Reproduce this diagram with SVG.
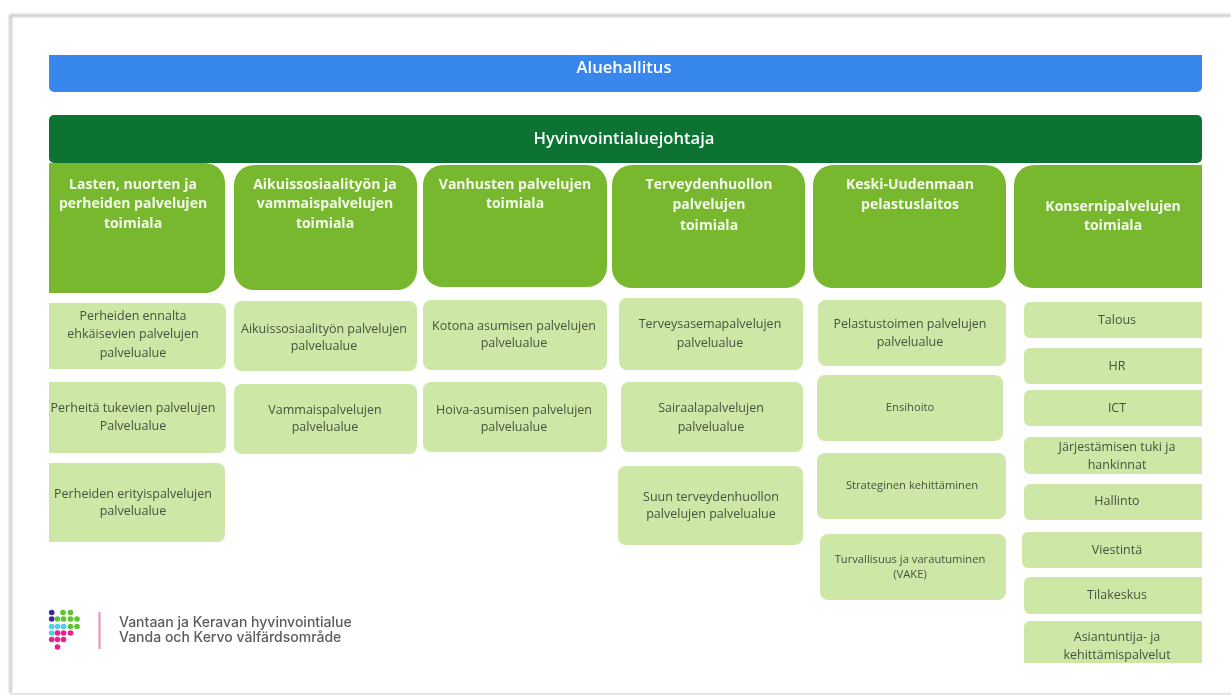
<svg xmlns="http://www.w3.org/2000/svg" width="1231" height="695" viewBox="0 0 1231 695">
<style>
text{font-family:"Open Sans","Noto Sans","DejaVu Sans",sans-serif;text-anchor:middle}
.h{fill:#78b82e}.s{fill:#cde8a6}
.ht{font-size:14px;font-weight:700;fill:#f4f9ec}
.st{font-size:12.500px;fill:#46533f}
.sm{font-size:11.200px}
.top{font-size:16.600px;font-weight:600;fill:#fff}
.logo{font-family:"Inter","Open Sans",sans-serif;font-size:14px;fill:#5c5c5c;text-anchor:start;font-weight:500}
</style>
<defs>
<clipPath id="c"><rect x="49" y="50" width="1153" height="613"/></clipPath>
<filter id="b" x="-5%" y="-5%" width="110%" height="110%"><feGaussianBlur stdDeviation="1.2"/></filter>
<filter id="soft" x="0" y="0" width="100%" height="100%"><feGaussianBlur stdDeviation="0.4"/></filter>
</defs>
<rect width="1231" height="695" fill="#fff"/>
<path d="M10.500 693V15.500H1231" fill="none" stroke="#c4c4c4" stroke-width="2.500" filter="url(#b)"/>
<path d="M10 694H1231" fill="none" stroke="#e6e6e6" stroke-width="2"/>
<g id="connectors"/>
<g filter="url(#soft)">
<g id="nodes" clip-path="url(#c)">
<g id="aluehallitus"><rect x="49" y="55" width="1153" height="37" rx="5" fill="#3787ec"/><path d="M49 55h1153v8H49z" fill="#3787ec"/><text class="top" x="624" y="73">Aluehallitus</text></g>
<g id="johtaja"><rect x="49" y="115" width="1153" height="48" rx="5" fill="#0a7331"/><text class="top" x="624" y="144">Hyvinvointialuejohtaja</text></g>

<g id="t1"><rect class="h" x="25" y="163" width="200" height="130" rx="20"/><text class="ht" x="133" y="189">Lasten, nuorten ja</text><text class="ht" x="133" y="208">perheiden palvelujen</text><text class="ht" x="133" y="228">toimiala</text></g>
<g id="t2"><rect class="h" x="234" y="165" width="183" height="125" rx="20"/><text class="ht" x="325" y="189">Aikuissosiaalityön ja</text><text class="ht" x="325" y="208">vammaispalvelujen</text><text class="ht" x="325" y="228">toimiala</text></g>
<g id="t3"><rect class="h" x="423" y="165" width="184" height="122" rx="20"/><text class="ht" x="515" y="189">Vanhusten palvelujen</text><text class="ht" x="515" y="208">toimiala</text></g>
<g id="t4"><rect class="h" x="612" y="165" width="193" height="123" rx="20"/><text class="ht" x="709" y="189">Terveydenhuollon</text><text class="ht" x="709" y="209">palvelujen</text><text class="ht" x="709" y="230">toimiala</text></g>
<g id="t5"><rect class="h" x="813" y="165" width="193" height="123" rx="20"/><text class="ht" x="910" y="189">Keski-Uudenmaan</text><text class="ht" x="910" y="209">pelastuslaitos</text></g>
<g id="t6"><rect class="h" x="1014" y="165" width="210" height="123" rx="20"/><text class="ht" x="1113" y="211">Konsernipalvelujen</text><text class="ht" x="1113" y="230">toimiala</text></g>

<g id="a1"><rect class="s" x="30" y="303" width="196" height="66" rx="8"/><text class="st" x="133" y="320">Perheiden ennalta</text><text class="st" x="133" y="338">ehkäisevien palvelujen</text><text class="st" x="133" y="357">palvelualue</text></g>
<g id="a2"><rect class="s" x="30" y="382" width="196" height="71" rx="8"/><text class="st" x="133" y="412">Perheitä tukevien palvelujen</text><text class="st" x="133" y="430">Palvelualue</text></g>
<g id="a3"><rect class="s" x="30" y="463" width="195" height="79" rx="8"/><text class="st" x="133" y="498">Perheiden erityispalvelujen</text><text class="st" x="133" y="515">palvelualue</text></g>

<g id="b1"><rect class="s" x="234" y="301" width="183" height="70" rx="8"/><text class="st" x="324" y="333">Aikuissosiaalityön palvelujen</text><text class="st" x="324" y="350">palvelualue</text></g>
<g id="b2"><rect class="s" x="234" y="384" width="183" height="70" rx="8"/><text class="st" x="325" y="414">Vammaispalvelujen</text><text class="st" x="325" y="431">palvelualue</text></g>

<g id="c1"><rect class="s" x="423" y="300" width="184" height="70" rx="8"/><text class="st" x="514" y="330">Kotona asumisen palvelujen</text><text class="st" x="514" y="347">palvelualue</text></g>
<g id="c2"><rect class="s" x="423" y="382" width="184" height="70" rx="8"/><text class="st" x="514" y="414">Hoiva-asumisen palvelujen</text><text class="st" x="514" y="431">palvelualue</text></g>

<g id="d1"><rect class="s" x="619" y="298" width="184" height="72" rx="8"/><text class="st" x="710" y="328">Terveysasemapalvelujen</text><text class="st" x="710" y="347">palvelualue</text></g>
<g id="d2"><rect class="s" x="621" y="382" width="182" height="70" rx="8"/><text class="st" x="711" y="412">Sairaalapalvelujen</text><text class="st" x="711" y="431">palvelualue</text></g>
<g id="d3"><rect class="s" x="618" y="466" width="185" height="79" rx="8"/><text class="st" x="711" y="501">Suun terveydenhuollon</text><text class="st" x="711" y="518">palvelujen palvelualue</text></g>

<g id="e1"><rect class="s" x="818" y="300" width="188" height="66" rx="8"/><text class="st" x="910" y="328">Pelastustoimen palvelujen</text><text class="st" x="910" y="346">palvelualue</text></g>
<g id="e2"><rect class="s" x="817" y="375" width="186" height="66" rx="8"/><text class="st sm" x="910" y="411">Ensihoito</text></g>
<g id="e3"><rect class="s" x="817" y="453" width="189" height="66" rx="8"/><text class="st sm" x="912" y="489">Strateginen kehittäminen</text></g>
<g id="e4"><rect class="s" x="820" y="534" width="186" height="66" rx="8"/><text class="st sm" x="910" y="563">Turvallisuus ja varautuminen</text><text class="st sm" x="910" y="578">(VAKE)</text></g>

<g id="f1"><rect class="s" x="1024" y="302" width="200" height="36" rx="6"/><text class="st" x="1117" y="324">Talous</text></g>
<g id="f2"><rect class="s" x="1024" y="348" width="200" height="36" rx="6"/><text class="st" x="1117" y="370">HR</text></g>
<g id="f3"><rect class="s" x="1024" y="390" width="200" height="36" rx="6"/><text class="st" x="1117" y="412">ICT</text></g>
<g id="f4"><rect class="s" x="1024" y="437" width="200" height="37" rx="6"/><text class="st" x="1117" y="451">Järjestämisen tuki ja</text><text class="st" x="1117" y="469">hankinnat</text></g>
<g id="f5"><rect class="s" x="1024" y="484" width="200" height="36" rx="6"/><text class="st" x="1117" y="505">Hallinto</text></g>
<g id="f6"><rect class="s" x="1022" y="532" width="202" height="36" rx="6"/><text class="st" x="1117" y="554">Viestintä</text></g>
<g id="f7"><rect class="s" x="1024" y="577" width="200" height="37" rx="6"/><text class="st" x="1117" y="599">Tilakeskus</text></g>
<g id="f8"><rect class="s" x="1024" y="621" width="200" height="60" rx="6"/><text class="st" x="1117" y="641">Asiantuntija- ja</text><text class="st" x="1117" y="659">kehittämispalvelut</text></g>
</g>
<g id="logo">
<g fill="#3a2a8c"><circle cx="51.700" cy="612.500" r="2.800"/><circle cx="51.700" cy="619" r="2.800"/></g>
<g fill="#5fc52e"><circle cx="63" cy="612.500" r="2.800"/><circle cx="70.500" cy="612.500" r="2.800"/><circle cx="57.500" cy="619" r="2.800"/><circle cx="63.500" cy="619" r="2.800"/><circle cx="70.500" cy="619" r="2.800"/><circle cx="77" cy="619" r="2.800"/><circle cx="70.500" cy="626.500" r="2.800"/><circle cx="77" cy="626.500" r="2.800"/></g>
<g fill="#4fcdea"><circle cx="51.700" cy="626.500" r="2.800"/><circle cx="57.500" cy="626.500" r="2.800"/><circle cx="63.500" cy="626.500" r="2.800"/><circle cx="51.700" cy="633" r="2.800"/></g>
<g fill="#ee1b8e"><circle cx="57.500" cy="633" r="2.800"/><circle cx="63.500" cy="633" r="2.800"/><circle cx="70.500" cy="633" r="2.800"/><circle cx="51.700" cy="639.500" r="2.800"/><circle cx="57.500" cy="639.500" r="2.800"/><circle cx="63.500" cy="639.500" r="2.800"/><circle cx="57.500" cy="647" r="2.800"/></g>
<rect x="98.500" y="612" width="2" height="37" fill="#f08cb8"/>
<text class="logo" x="119" y="627">Vantaan ja Keravan hyvinvointialue</text>
<text class="logo" x="119" y="642">Vanda och Kervo välfärdsområde</text>
</g>
</g>
</svg>
